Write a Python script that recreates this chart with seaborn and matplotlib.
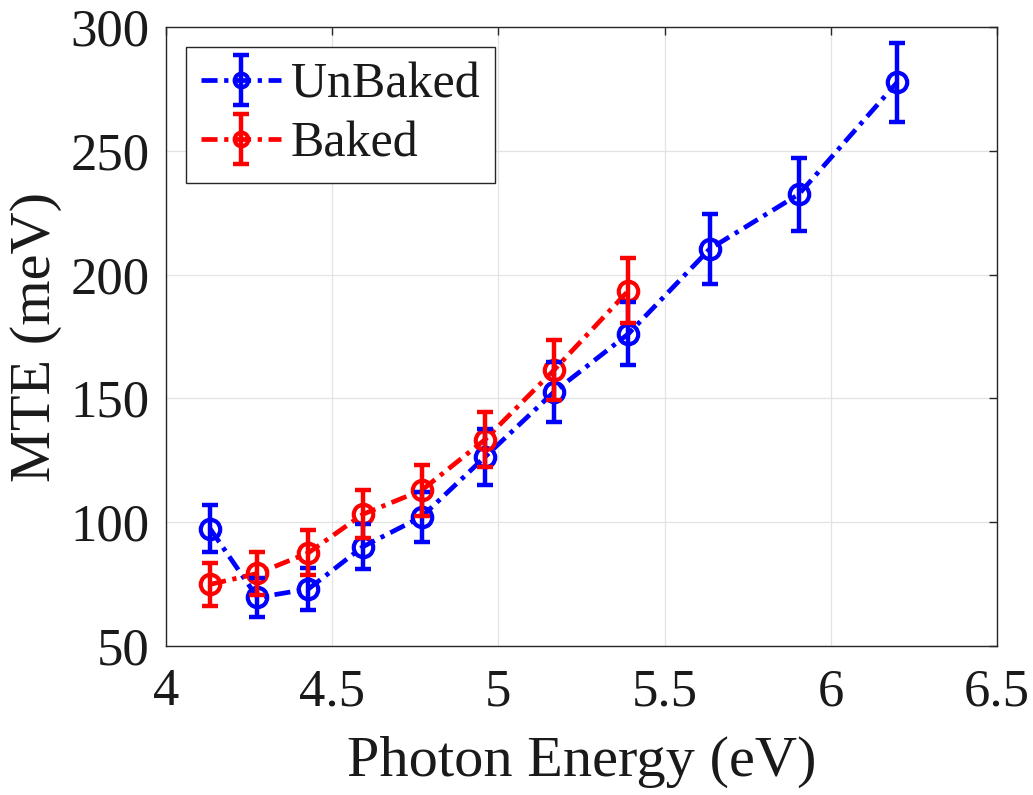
import matplotlib
matplotlib.use("Agg")
import matplotlib.pyplot as plt
import seaborn as sns
import pandas as pd
from matplotlib.legend_handler import HandlerTuple

# Data
energy_unbaked = [4.133, 4.275, 4.428, 4.592, 4.769, 4.959, 5.166, 5.391, 5.636, 5.904, 6.199]
mte_unbaked = [97.3, 69.6, 73.0, 90.1, 102.2, 126.3, 152.5, 176.1, 210.4, 232.5, 277.6]
err_unbaked = [9.5, 7.8, 8.5, 9.1, 10.1, 11.4, 12.1, 12.8, 14.1, 14.8, 16.1]

energy_baked = [4.133, 4.275, 4.428, 4.592, 4.769, 4.959, 5.166, 5.391]
mte_baked = [74.9, 79.3, 87.6, 103.2, 112.9, 133.3, 161.3, 193.5]
err_baked = [8.6, 8.7, 9.1, 9.7, 10.4, 11.1, 12.1, 13.2]

labels = ["UnBaked", "Baked"]
colors = ["#0000FF", "#FF0000"]
xticks = [4, 4.5, 5, 5.5, 6, 6.5]
yticks = [50, 100, 150, 200, 250, 300]

sns.set_theme(style="whitegrid")
plt.rcParams['font.family'] = ['Liberation Serif', 'DejaVu Serif']
txt = '#1a1a1a'
plt.rcParams['text.color'] = txt
plt.rcParams['axes.labelcolor'] = txt
plt.rcParams['xtick.color'] = txt
plt.rcParams['ytick.color'] = txt

fig = plt.figure(figsize=(10.33, 7.95), dpi=100)
ax = fig.add_axes([0.1607, 0.1874, 0.8045, 0.7786])

series = [
    (energy_unbaked, mte_unbaked, err_unbaked),
    (energy_baked, mte_baked, err_baked),
]
handles = []
for (xs, ys, es), lab, col in zip(series, labels, colors):
    df = pd.DataFrame({"x": xs, "y": ys})
    sns.lineplot(data=df, x="x", y="y", ax=ax, color=col, linewidth=3.4,
                 marker="o", markersize=14, markerfacecolor="none",
                 markeredgecolor=col, markeredgewidth=3, legend=False)
    line = ax.lines[-1]
    line.set_dashes((3.4, 1.4, 0.9, 1.4))
    eb = ax.errorbar(xs, ys, yerr=es, fmt="none", ecolor=col, elinewidth=3.2,
                     capsize=6, capthick=3.2, zorder=3)
    handles.append((line, eb))

ax.set_xlim(4, 6.5)
ax.set_ylim(50, 300)
ax.set_xticks(xticks)
ax.set_xticklabels([f"{t:g}" for t in xticks])
ax.set_yticks(yticks)
ax.set_xlabel("Photon Energy (eV)", fontsize=42, labelpad=14)
ax.set_ylabel("MTE (meV)", fontsize=42, labelpad=6)
ax.tick_params(axis="both", labelsize=38, direction="in", length=6, width=1,
               top=True, right=True, color="#262626")
ax.tick_params(axis="y", pad=12)
ax.tick_params(axis="x", pad=16)
ax.grid(True, color="#e3e3e3", linewidth=0.9)
for s in ax.spines.values():
    s.set_color("#262626")
    s.set_linewidth(1.0)
    s.set_visible(True)
ax.set_facecolor("white")

leg = ax.legend(handles, labels, loc="upper left", fontsize=36,
                handler_map={tuple: HandlerTuple(ndivide=1, pad=0)},
                frameon=True, fancybox=False, framealpha=1, edgecolor="#262626",
                handlelength=1.6, borderaxespad=0.4, handletextpad=0.2,
                borderpad=0.3, labelspacing=0.25, markerscale=0.7)
leg.get_frame().set_linewidth(1.0)

fig.savefig("out.png", dpi=100, facecolor="white")
